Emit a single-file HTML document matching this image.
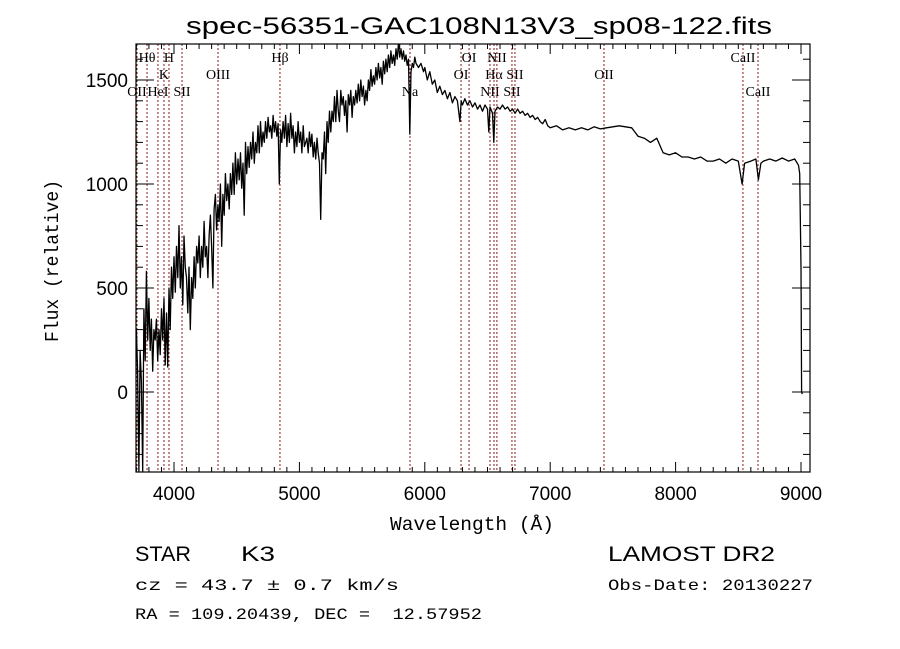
<!DOCTYPE html>
<html><head><meta charset="utf-8"><style>
html,body{margin:0;padding:0;background:#fff;}
svg{display:block;}
</style></head><body>
<svg id="chart" width="900" height="649" xmlns="http://www.w3.org/2000/svg">
<defs><clipPath id="plotclip"><rect x="136" y="44" width="674" height="428"/></clipPath></defs>
<rect width="900" height="649" fill="#fff"/>
<text x="186" y="34" font-family="Liberation Sans, sans-serif" font-size="24" textLength="586" lengthAdjust="spacingAndGlyphs">spec-56351-GAC108N13V3_sp08-122.fits</text>
<g id="lines"></g>
<g id="ticks"></g>
<g id="series" clip-path="url(#plotclip)"></g>
<rect x="136" y="44" width="674" height="428" fill="none" stroke="#000" stroke-width="1.2"/>
<g id="labels" font-family="Liberation Sans, sans-serif" font-size="19"></g>
<text x="390" y="530" font-family="Liberation Mono, monospace" font-size="19" textLength="164" lengthAdjust="spacingAndGlyphs">Wavelength (Å)</text>
<text transform="translate(58,342) rotate(-90)" font-family="Liberation Mono, monospace" font-size="19" textLength="162" lengthAdjust="spacingAndGlyphs">Flux (relative)</text>
<text x="135" y="561" font-family="Liberation Sans, sans-serif" font-size="21" textLength="56" lengthAdjust="spacingAndGlyphs">STAR</text>
<text x="241" y="561" font-family="Liberation Sans, sans-serif" font-size="21" textLength="34" lengthAdjust="spacingAndGlyphs">K3</text>
<text x="135" y="590" font-family="Liberation Mono, monospace" font-size="16" textLength="264" lengthAdjust="spacingAndGlyphs">cz = 43.7 ± 0.7 km/s</text>
<text x="135" y="619" font-family="Liberation Mono, monospace" font-size="16" textLength="347" lengthAdjust="spacingAndGlyphs" xml:space="preserve">RA = 109.20439, DEC =  12.57952</text>
<text x="608" y="561" font-family="Liberation Sans, sans-serif" font-size="21" textLength="167" lengthAdjust="spacingAndGlyphs">LAMOST DR2</text>
<text x="608" y="590" font-family="Liberation Mono, monospace" font-size="16" textLength="205" lengthAdjust="spacingAndGlyphs">Obs-Date: 20130227</text>
</svg>
<script>
const wavelengths=[3700,3710,3720,3730,3740,3750,3760,3770,3780,3790,3800,3810,3820,3830,3840,3850,3860,3870,3880,3890,3900,3910,3920,3930,3940,3950,3960,3970,3980,3990,4000,4010,4020,4030,4040,4050,4060,4070,4080,4090,4100,4110,4120,4130,4140,4150,4160,4170,4180,4190,4200,4210,4220,4230,4240,4250,4260,4270,4280,4290,4300,4310,4320,4330,4340,4350,4360,4370,4380,4390,4400,4410,4420,4430,4440,4450,4460,4470,4480,4490,4500,4510,4520,4530,4540,4550,4560,4570,4580,4590,4600,4610,4620,4630,4640,4650,4660,4670,4680,4690,4700,4710,4720,4730,4740,4750,4760,4770,4780,4790,4800,4810,4820,4830,4840,4850,4860,4870,4880,4890,4900,4910,4920,4930,4940,4950,4960,4970,4980,4990,5000,5010,5020,5030,5040,5050,5060,5070,5080,5090,5100,5110,5120,5130,5140,5150,5160,5170,5180,5190,5200,5210,5220,5230,5240,5250,5260,5270,5280,5290,5300,5310,5320,5330,5340,5350,5360,5370,5380,5390,5400,5410,5420,5430,5440,5450,5460,5470,5480,5490,5500,5510,5520,5530,5540,5550,5560,5570,5580,5590,5600,5610,5620,5630,5640,5650,5660,5670,5680,5690,5700,5710,5720,5730,5740,5750,5760,5770,5780,5790,5800,5810,5820,5830,5840,5850,5860,5870,5880,5890,5900,5910,5920,5930,5950,5970,5990,6000,6020,6040,6060,6080,6100,6120,6140,6160,6180,6200,6220,6240,6260,6280,6290,6300,6320,6340,6360,6380,6400,6420,6440,6460,6480,6500,6510,6520,6540,6550,6560,6580,6600,6620,6640,6660,6680,6700,6720,6740,6760,6780,6800,6820,6840,6860,6880,6900,6920,6940,6960,6980,7000,7050,7100,7150,7200,7250,7300,7350,7400,7450,7500,7550,7600,7650,7700,7750,7800,7850,7900,7950,8000,8050,8100,8150,8200,8250,8300,8350,8400,8450,8500,8530,8550,8600,8640,8660,8680,8700,8750,8800,8850,8900,8950,8980,8990,9000,9005,9010];
const fluxes=[300,100,-380,200,50,-380,400,150,580,250,450,200,350,100,300,250,350,150,300,180,400,250,450,130,380,120,500,300,600,450,650,480,700,550,800,500,650,420,750,600,550,380,600,300,550,450,650,500,700,620,750,550,700,600,820,650,700,550,750,850,700,500,880,950,780,900,820,1000,700,950,850,1050,920,1000,880,1050,950,1100,950,1150,1000,1120,1020,1150,980,1100,850,1200,1050,1180,1080,1200,1120,1250,1100,1200,1150,1280,1150,1300,1180,1250,1200,1300,1220,1320,1250,1280,1220,1330,1250,1300,1230,1290,1000,1260,1200,1300,1220,1330,1180,1290,1200,1340,1220,1280,1150,1250,1180,1300,1200,1250,1150,1280,1180,1200,1220,1150,1250,1180,1240,1130,1200,1120,1220,1150,1100,830,1150,1120,1250,1050,1300,1200,1350,1250,1350,1300,1420,1300,1450,1350,1300,1450,1380,1420,1330,1400,1250,1430,1380,1450,1320,1420,1380,1450,1390,1480,1400,1500,1420,1470,1380,1450,1400,1500,1450,1550,1470,1520,1480,1560,1500,1580,1510,1560,1480,1590,1530,1600,1540,1620,1560,1640,1580,1620,1570,1650,1600,1680,1610,1650,1600,1640,1590,1620,1570,1600,1240,1540,1580,1560,1610,1580,1560,1580,1540,1560,1500,1540,1480,1500,1440,1470,1430,1450,1410,1440,1390,1420,1400,1300,1400,1380,1410,1380,1400,1370,1390,1360,1380,1350,1380,1360,1250,1370,1340,1200,1350,1370,1360,1380,1360,1370,1350,1360,1340,1360,1340,1350,1330,1340,1320,1330,1310,1320,1300,1290,1310,1280,1270,1280,1260,1270,1260,1270,1260,1275,1265,1270,1275,1280,1275,1270,1230,1220,1200,1220,1150,1140,1150,1130,1130,1120,1130,1110,1110,1120,1100,1120,1110,1000,1100,1110,1120,1020,1100,1110,1120,1110,1125,1110,1120,1090,1050,600,0,-10];
const lineWaves=[3705,3785,3872,3920,3960,4064,4351,4845,5882,6289,6353,6520,6552,6575,6695,6719,7429,8537,8657];
const lineNames=["OII","Hθ","HeI","K","H","SII","OIII","Hβ","Na","OI","OI","NII","Hα","NII","SII","SII","OII","CaII","CaII"];
const lineRows=[3,1,3,2,1,3,2,1,3,2,1,3,2,1,3,2,2,1,3];
const xTickLabels=[4000,5000,6000,7000,8000,9000];
const yTickLabels=[0,500,1000,1500];

const NS="http://www.w3.org/2000/svg";
function xs(w){return 174+(w-4000)*0.1254;}
function ys(f){return 392-f*0.208;}
function mk(t,a,p){const e=document.createElementNS(NS,t);for(const k in a)e.setAttribute(k,a[k]);p.appendChild(e);return e;}

const gl=document.getElementById('lines');
for(let i=0;i<lineWaves.length;i++){
  const x=xs(lineWaves[i]);
  const l=mk('line',{x1:x,x2:x,y1:44,y2:472,stroke:'#8b1a1a','stroke-width':1,'stroke-dasharray':'2,2'},gl);
  
  
  const ty=[0,62,79,96][lineRows[i]];
  const t=mk('text',{x:x,y:ty,'text-anchor':'middle','font-family':'Liberation Serif, serif','font-size':14},gl);
  t.textContent=lineNames[i];
  
  
}

const gt=document.getElementById('ticks');
for(let w=3700;w<=9000;w+=100){
  const x=xs(w);const major=w%1000===0;const len=major?10:5;
  const a=mk('line',{x1:x,x2:x,y1:472,y2:472-len,stroke:'#000'},gt);
  
  
  const b=mk('line',{x1:x,x2:x,y1:44,y2:44+len,stroke:'#000'},gt);
  
  
}
for(let f=-300;f<=1600;f+=100){
  const y=ys(f);const major=f%500===0;const len=major?18:7;
  const a=mk('line',{x1:136,x2:136+len,y1:y,y2:y,stroke:'#000'},gt);
  
  
  const b=mk('line',{x1:810,x2:810-len,y1:y,y2:y,stroke:'#000'},gt);
  
  
}
const glab=document.getElementById('labels');
xTickLabels.forEach(v=>{
  const t=mk('text',{x:xs(v),y:500,'text-anchor':'middle'},glab);t.textContent=v;
  
  
});
yTickLabels.forEach(v=>{
  const t=mk('text',{x:128,y:ys(v)+7,'text-anchor':'end'},glab);t.textContent=v;
  
  
});

const gs=document.getElementById('series');
let d='';
for(let i=0;i<wavelengths.length;i++){d+=(i?'L':'M')+xs(wavelengths[i]).toFixed(1)+','+ys(fluxes[i]).toFixed(1);}
const p=mk('path',{d:d,fill:'none',stroke:'#000','stroke-width':1.3,'stroke-linejoin':'round'},gs);


</script>
</body></html>
